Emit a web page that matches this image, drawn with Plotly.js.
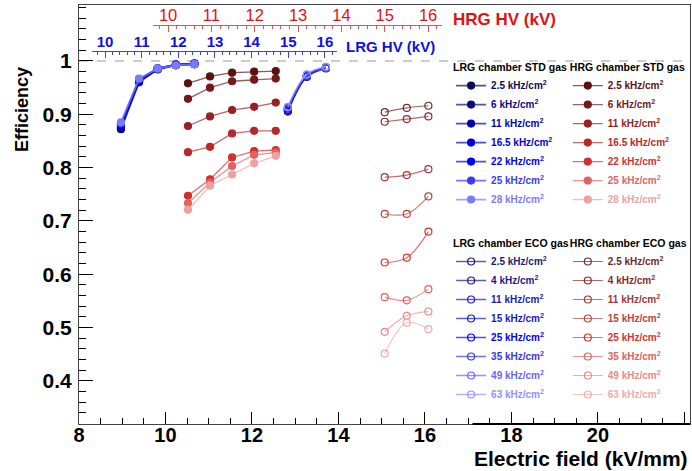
<!DOCTYPE html>
<html>
<head>
<meta charset="utf-8">
<script src="https://cdn.plot.ly/plotly-3.0.1.min.js"></script>
<style>html,body{margin:0;padding:0;background:#fff;}#chart{width:692px;height:471px;}</style>
</head>
<body>
<div id="chart"></div>
<script>
// ---------------- DATA ----------------
// Electric field (kV/mm) of each measured point
const lrgStdField = [8.97, 9.39, 9.82, 10.24, 10.67];
const hrgStdField = [10.52, 11.03, 11.54, 12.05, 12.55];
const lrgEcoField = [12.83, 13.27, 13.71];
const hrgEcoField = [15.07, 15.58, 16.08];

// Background rates (kHz/cm2)
const lrgStdRates = ['2.5', '6', '11', '16.5', '22', '25', '28'];
const hrgStdRates = ['2.5', '6', '11', '16.5', '22', '25', '28'];
const lrgEcoRates = ['2.5', '4', '11', '15', '25', '35', '49', '63'];
const hrgEcoRates = ['2.5', '4', '11', '15', '25', '35', '49', '63'];

// Efficiencies, one row per rate
const lrgStdEff = [
  [0.872, 0.960, 0.984, 0.992, 0.994],
  [0.874, 0.962, 0.985, 0.992, 0.994],
  [0.877, 0.963, 0.985, 0.993, 0.995],
  [0.879, 0.964, 0.986, 0.993, 0.995],
  [0.881, 0.965, 0.986, 0.993, 0.995],
  [0.883, 0.966, 0.985, 0.992, 0.994],
  [0.885, 0.967, 0.986, 0.992, 0.994]
];
const hrgStdEff = [
  [0.958, 0.971, 0.978, 0.980, 0.981],
  [0.929, 0.950, 0.962, 0.965, 0.967],
  [0.878, 0.896, 0.908, 0.914, 0.922],
  [0.829, 0.839, 0.864, 0.869, 0.869],
  [0.747, 0.778, 0.819, 0.831, 0.833],
  [0.733, 0.772, 0.803, 0.824, 0.828],
  [0.721, 0.766, 0.787, 0.808, 0.822]
];
const lrgEcoEff = [
  [0.905, 0.970, 0.986],
  [0.906, 0.971, 0.987],
  [0.908, 0.972, 0.987],
  [0.909, 0.972, 0.988],
  [0.911, 0.973, 0.988],
  [0.912, 0.972, 0.987],
  [0.913, 0.974, 0.988],
  [0.914, 0.975, 0.989]
];
const hrgEcoEff = [
  [0.904, 0.912, 0.916],
  [0.886, 0.891, 0.896],
  [0.782, 0.786, 0.797],
  [0.713, 0.713, 0.746],
  [0.622, 0.631, 0.680],
  [0.557, 0.551, 0.572],
  [0.492, 0.522, 0.530],
  [0.451, 0.509, 0.497]
];

// Axis ticks
const yTickVals = [0.4, 0.5, 0.6, 0.7, 0.8, 0.9, 1];
const yTickText = ['0.4', '0.5', '0.6', '0.7', '0.8', '0.9', '1'];
const hvTickVals = [10, 11, 12, 13, 14, 15, 16];

// ---------------- STYLE ----------------
const lrgStdColors = ['#0b0b55', '#0a0a85', '#0000b0', '#0000d8', '#0000ff', '#3a3aff', '#7a7aff'];
const hrgStdColors = ['#5c1010', '#741818', '#962222', '#b82828', '#d23030', '#e26262', '#efa0a0'];
const lrgEcoColors = ['#1c1c6e', '#1a1a8e', '#2020b0', '#1818d0', '#0000ff', '#3535ff', '#6565ff', '#9090ff'];
const hrgEcoColors = ['#6e2a2a', '#8a2a2a', '#a33636', '#c04040', '#dc3030', '#e26060', '#ea8888', '#f0aaaa'];

function rgba(hex, a) {
  const n = parseInt(hex.slice(1), 16);
  return 'rgba(' + ((n >> 16) & 255) + ',' + ((n >> 8) & 255) + ',' + (n & 255) + ',' + a + ')';
}
function label(rate, color) {
  return '<span style="color:' + color + '">' + rate + ' kHz/cm<sup>2</sup></span>';
}

const traces = [];
function addGroup(field, effs, rates, colors, legendId, symbol, lineWidth, shape) {
  effs.forEach(function (row, i) {
    traces.push({
      type: 'scatter',
      mode: 'lines+markers',
      x: field,
      y: row,
      name: label(rates[i], colors[i]),
      legend: legendId,
      line: {color: rgba(colors[i], 0.7), width: lineWidth, shape: shape, smoothing: 1},
      marker: {symbol: symbol, size: 7, color: colors[i], line: {color: colors[i], width: 1.2}},
      hoverinfo: 'x+y+name'
    });
  });
}
addGroup(lrgStdField, lrgStdEff, lrgStdRates, lrgStdColors, 'legend', 'circle', 1.8, 'linear');
addGroup(hrgStdField, hrgStdEff, hrgStdRates, hrgStdColors, 'legend2', 'circle', 1.3, 'linear');
addGroup(lrgEcoField, lrgEcoEff, lrgEcoRates, lrgEcoColors, 'legend3', 'circle-open', 1.5, 'spline');
addGroup(hrgEcoField, hrgEcoEff, hrgEcoRates, hrgEcoColors, 'legend4', 'circle-open', 1.2, 'spline');

// helper (empty) traces so that the HV axes get attached
traces.push({type: 'scatter', mode: 'markers', x: [null], y: [null], xaxis: 'x2', yaxis: 'y', showlegend: false, hoverinfo: 'skip'});
traces.push({type: 'scatter', mode: 'markers', x: [null], y: [null], xaxis: 'x3', yaxis: 'y', showlegend: false, hoverinfo: 'skip'});

const FONT = 'Liberation Sans, Arial, Helvetica, sans-serif';
const legendBase = function (x, y, title) {
  return {
    x: x, y: y, xanchor: 'left', yanchor: 'top',
    bgcolor: 'rgba(0,0,0,0)', borderwidth: 0,
    font: {family: FONT, size: 10, weight: 'bold', color: '#000'},
    title: {text: title, font: {family: FONT, size: 10.5, weight: 'bold', color: '#000'}},
    itemwidth: 30, tracegroupgap: 0
  };
};

const layout = {
  width: 692, height: 471,
  margin: {l: 79, r: 2, t: 5, b: 47, pad: 0},
  paper_bgcolor: '#fff', plot_bgcolor: 'rgba(0,0,0,0)',
  font: {family: FONT, color: '#000'},
  showlegend: true,
  xaxis: {
    range: [8, 22.13], tick0: 8, dtick: 2,
    ticks: 'inside', ticklen: 12, tickcolor: '#000', tickwidth: 1,
    minor: {dtick: 0.5, ticks: 'inside', ticklen: 6, tickcolor: '#000'},
    showline: true, linecolor: '#444', linewidth: 1, mirror: true,
    showgrid: false, zeroline: false,
    tickfont: {family: FONT, size: 20, weight: 'bold', color: '#000'},
    ticklabelstandoff: -7
  },
  yaxis: {
    range: [0.319, 1.105],
    tickvals: yTickVals, ticktext: yTickText,
    ticks: 'inside', ticklen: 14, tickcolor: '#000', tickwidth: 1,
    minor: {dtick: 0.02, ticks: 'inside', ticklen: 7, tickcolor: '#000'},
    showline: true, linecolor: '#444', linewidth: 1, mirror: true,
    showgrid: false, zeroline: false,
    tickfont: {family: FONT, size: 21, weight: 'bold', color: '#000'},
    ticklabelstandoff: 2
  },
  xaxis2: {
    domain: [0.121, 0.594], range: [9.65, 16.32],
    anchor: 'free', position: 0.953, side: 'top',
    tickvals: hvTickVals,
    ticks: 'inside', ticklen: 6, tickcolor: '#e05555',
    minor: {dtick: 0.2, ticks: 'inside', ticklen: 3, tickcolor: '#e05555'},
    showline: true, linecolor: '#e05555', linewidth: 1,
    showgrid: false, zeroline: false,
    tickfont: {family: FONT, size: 16.5, color: '#dd1111'},
    ticklabelstandoff: -3
  },
  xaxis3: {
    domain: [0.0213, 0.4223], range: [9.645, 16.33],
    anchor: 'free', position: 0.8895, side: 'top',
    tickvals: hvTickVals,
    ticks: 'inside', ticklen: 6, tickcolor: '#3344ee',
    minor: {dtick: 0.2, ticks: 'inside', ticklen: 3, tickcolor: '#3344ee'},
    showline: true, linecolor: '#3344ee', linewidth: 1,
    showgrid: false, zeroline: false,
    tickfont: {family: FONT, size: 15, weight: 'bold', color: '#1111dd'},
    ticklabelstandoff: -2
  },
  legend: legendBase(0.609, 0.875, 'LRG chamber STD gas'),
  legend2: legendBase(0.800, 0.875, 'HRG chamber STD gas'),
  legend3: legendBase(0.609, 0.455, 'LRG chamber ECO gas'),
  legend4: legendBase(0.800, 0.455, 'HRG chamber ECO gas'),
  shapes: [
    {type: 'line', layer: 'below', xref: 'paper', x0: 0, x1: 1, yref: 'y', y0: 1, y1: 1,
     line: {color: '#999', width: 1, dash: 'dash'}},
    {type: 'line', xref: 'x', x0: 17.1, x1: 22.13, yref: 'paper', y0: 0, y1: 0,
     line: {color: '#000', width: 2}}
  ],
  annotations: [
    {text: 'Efficiency', xref: 'paper', yref: 'paper', x: -0.093, y: 0.75,
     xanchor: 'center', yanchor: 'middle', textangle: -90, showarrow: false,
     font: {family: FONT, size: 18, weight: 'bold', color: '#000'}},
    {text: 'Electric field (kV/mm)', xref: 'paper', yref: 'paper', x: 0.998, y: -0.1115,
     xanchor: 'right', yanchor: 'bottom', showarrow: false, borderpad: 0,
     font: {family: FONT, size: 21, weight: 'bold', color: '#000'}},
    {text: 'HRG HV (kV)', xref: 'paper', yref: 'paper', x: 0.609, y: 0.966,
     xanchor: 'left', yanchor: 'middle', showarrow: false,
     font: {family: FONT, size: 17, weight: 'bold', color: '#dd1111'}},
    {text: 'LRG HV (kV)', xref: 'paper', yref: 'paper', x: 0.433, y: 0.902,
     xanchor: 'left', yanchor: 'middle', showarrow: false,
     font: {family: FONT, size: 15, weight: 'bold', color: '#1111dd'}}
  ]
};

Plotly.newPlot('chart', traces, layout, {displayModeBar: false, staticPlot: true});
</script>
</body>
</html>
